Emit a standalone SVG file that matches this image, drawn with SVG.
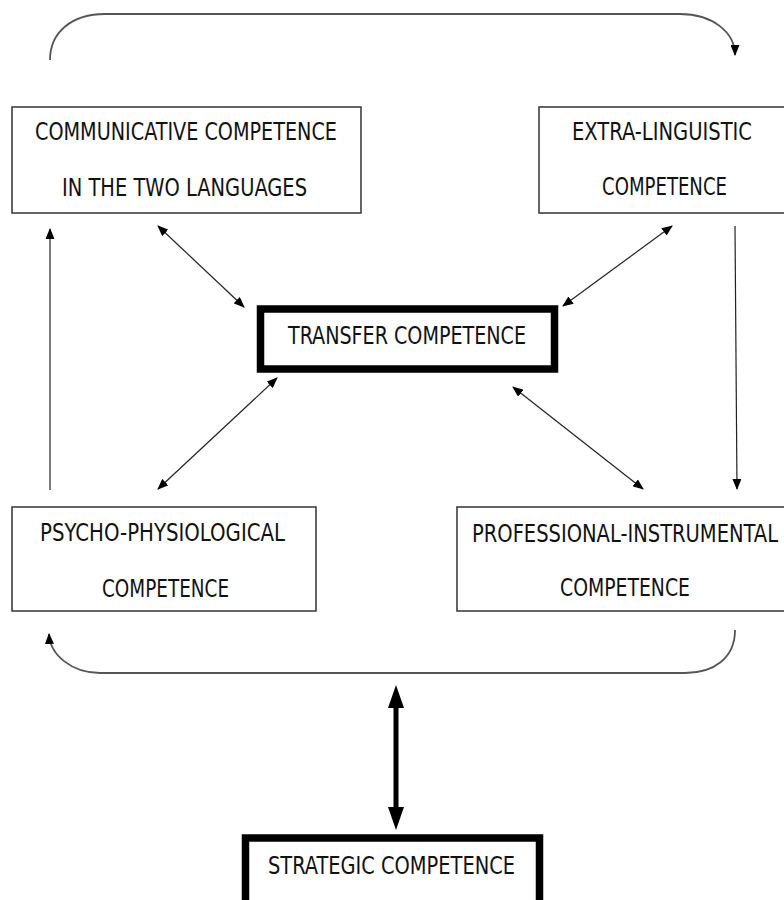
<svg xmlns="http://www.w3.org/2000/svg" width="784" height="900" viewBox="0 0 784 900">
<style>
.box{fill:#fff;stroke:#333;stroke-width:1.5}
.thick{fill:#fff;stroke:#000;stroke-width:7.5}
.t{font-family:"DejaVu Sans Condensed","Liberation Sans Narrow","DejaVu Sans",sans-serif;font-size:24px;fill:#111}
.c{fill:none;stroke:#222;stroke-width:1.2}
.arc{fill:none;stroke:#555;stroke-width:1.8}
.big{fill:none;stroke:#000;stroke-width:5}
</style>
<defs>
<marker id="ah" markerUnits="userSpaceOnUse" markerWidth="11" markerHeight="9" viewBox="0 0 11 9" refX="10" refY="4.5" orient="auto-start-reverse">
<path d="M0,0 L11,4.5 L0,9 z" fill="#000"/>
</marker>
<marker id="bh" markerUnits="userSpaceOnUse" markerWidth="23" markerHeight="16" viewBox="0 0 23 16" refX="10" refY="8" orient="auto-start-reverse">
<path d="M0,0 L23,8 L0,16 z" fill="#000"/>
</marker>
</defs>
<g id="connectors">
<path class="arc" d="M50,60 C50,32 72,14 105,14 L680,14 C712,14 735,32 735,55" marker-end="url(#ah)"/>
<path class="arc" d="M735,630 C735,658 714,673 685,673 L100,673 C72,673 50,655 49,634" marker-end="url(#ah)"/>
<line class="c" x1="50" y1="490" x2="50" y2="229" marker-end="url(#ah)"/>
<line class="c" x1="735" y1="226" x2="737" y2="489" marker-end="url(#ah)"/>
<line class="c" x1="158" y1="226" x2="244" y2="307" marker-start="url(#ah)" marker-end="url(#ah)"/>
<line class="c" x1="672" y1="226" x2="563" y2="306" marker-start="url(#ah)" marker-end="url(#ah)"/>
<line class="c" x1="277" y1="378" x2="158" y2="489" marker-start="url(#ah)" marker-end="url(#ah)"/>
<line class="c" x1="513" y1="387" x2="643" y2="489" marker-start="url(#ah)" marker-end="url(#ah)"/>
<line class="big" x1="396" y1="698" x2="396" y2="817" marker-start="url(#bh)" marker-end="url(#bh)"/>
</g>
<g id="communicative">
<rect class="box" x="12" y="107" width="349" height="106"/>
<text class="t" x="35" y="140" textLength="302" lengthAdjust="spacingAndGlyphs">COMMUNICATIVE COMPETENCE</text>
<text class="t" x="62" y="196" textLength="245" lengthAdjust="spacingAndGlyphs">IN THE TWO LANGUAGES</text>
</g>
<g id="extra-linguistic">
<rect class="box" x="539" y="107" width="260" height="106"/>
<text class="t" x="572" y="140" textLength="180" lengthAdjust="spacingAndGlyphs">EXTRA-LINGUISTIC</text>
<text class="t" x="602" y="195" textLength="125" lengthAdjust="spacingAndGlyphs">COMPETENCE</text>
</g>
<g id="transfer">
<rect class="thick" x="260.5" y="309" width="294" height="60"/>
<text class="t" x="288" y="344" textLength="238" lengthAdjust="spacingAndGlyphs">TRANSFER COMPETENCE</text>
</g>
<g id="psycho-physiological">
<rect class="box" x="12" y="507" width="304" height="104"/>
<text class="t" x="40" y="541" textLength="245" lengthAdjust="spacingAndGlyphs">PSYCHO-PHYSIOLOGICAL</text>
<text class="t" x="102" y="597" textLength="127" lengthAdjust="spacingAndGlyphs">COMPETENCE</text>
</g>
<g id="professional-instrumental">
<rect class="box" x="457" y="507" width="340" height="104"/>
<text class="t" x="472" y="542" textLength="306" lengthAdjust="spacingAndGlyphs">PROFESSIONAL-INSTRUMENTAL</text>
<text class="t" x="560" y="596" textLength="130" lengthAdjust="spacingAndGlyphs">COMPETENCE</text>
</g>
<g id="strategic">
<rect class="thick" x="245.5" y="838" width="294" height="80"/>
<text class="t" x="268" y="874" textLength="247" lengthAdjust="spacingAndGlyphs">STRATEGIC COMPETENCE</text>
</g>
</svg>
